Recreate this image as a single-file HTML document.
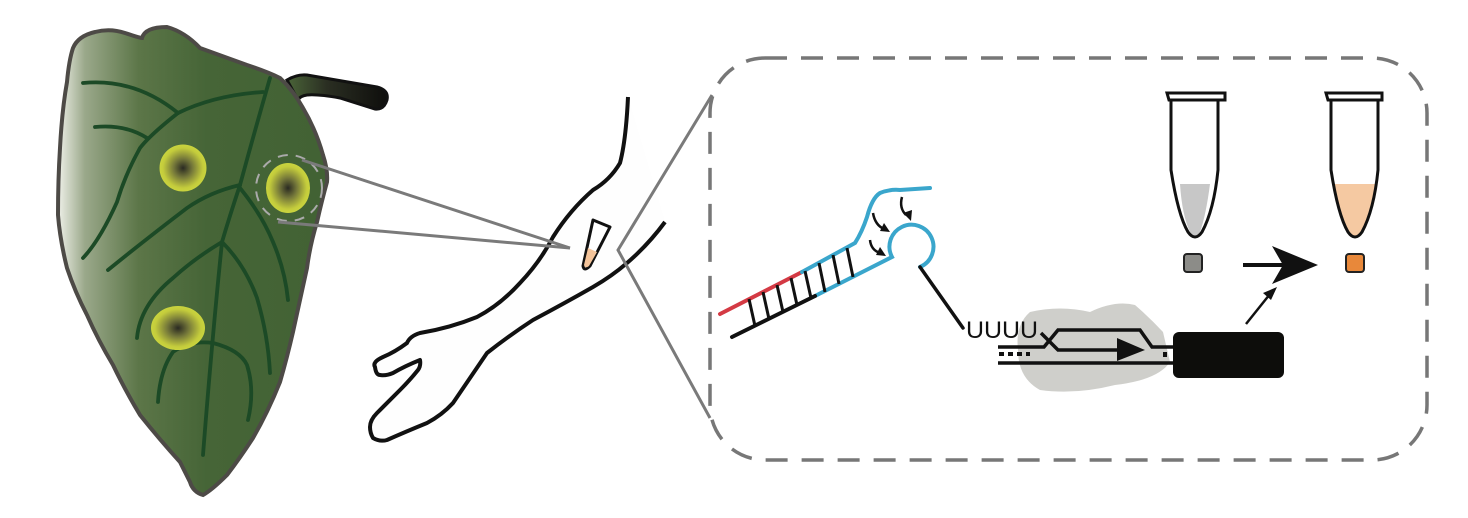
<!DOCTYPE html>
<html><head><meta charset="utf-8"><style>html,body{margin:0;padding:0;background:#fff}svg{display:block}</style></head>
<body>
<svg width="1468" height="518" viewBox="0 0 1468 518" xmlns="http://www.w3.org/2000/svg">
<defs>
<linearGradient id="lg" x1="0" x2="1" y1="0" y2="0">
<stop offset="0" stop-color="#eef0e8"/><stop offset="0.1" stop-color="#9aa88a"/><stop offset="0.3" stop-color="#5c7648"/><stop offset="0.55" stop-color="#466537"/><stop offset="1" stop-color="#426234"/>
</linearGradient>
<linearGradient id="stg" x1="0" x2="1"><stop offset="0" stop-color="#4a6438"/><stop offset="0.4" stop-color="#2a2e22"/><stop offset="1" stop-color="#0e0e0c"/></linearGradient>
<radialGradient id="sp"><stop offset="0" stop-color="#2a2a22"/><stop offset="0.4" stop-color="#75783a"/><stop offset="0.85" stop-color="#c4cc3c"/><stop offset="1" stop-color="#cad43e"/></radialGradient>
</defs>
<!-- stem -->
<path d="M287 80 Q297 74 307 75 L377 87 Q389 90 387 100 Q384 110 375 109 L340 98 Q318 94 307 95 Q300 96 298 100 Z" fill="url(#stg)" stroke="#111" stroke-width="3"/>
<!-- leaf -->
<path d="M73 48 Q78 36 95 32 Q110 28 125 33 Q140 38 142 38 Q145 27 167 27 Q185 32 200 48 Q225 57 247 65 Q268 72 280 78 Q293 90 303 108 Q316 130 323 155 Q328 170 327 182 Q322 200 317 222 Q310 245 307 268 Q300 300 293 332 Q287 358 280 382 Q268 412 253 438 Q240 458 227 475 Q212 490 203 495 Q193 492 190 482 Q184 470 180 462 Q160 440 140 415 Q125 390 113 365 Q98 340 87 315 Q75 292 67 268 Q60 240 58 215 Q58 180 60 148 Q62 110 67 82 Q69 60 73 48 Z" fill="url(#lg)" stroke="#4d4a46" stroke-width="4"/>
<g fill="none" stroke="#1c4a26" stroke-width="3.8" stroke-linecap="round">
<path d="M270 78 Q255 130 240 185 Q230 215 222 242 Q212 340 203 455"/>
<path d="M83 83 Q135 78 178 113"/>
<path d="M178 113 Q215 95 263 92"/>
<path d="M178 113 Q150 135 140 148 Q125 175 117 202 Q100 240 83 258"/>
<path d="M95 127 Q125 124 147 138"/>
<path d="M240 185 Q210 192 187 208 Q145 240 108 270"/>
<path d="M240 188 Q262 215 273 242 Q285 270 288 300"/>
<path d="M222 242 Q195 258 173 278 Q140 305 137 338"/>
<path d="M222 242 Q245 265 257 298 Q268 335 270 373"/>
<path d="M158 402 Q160 370 173 352 Q190 340 213 343 Q240 350 247 365 Q255 390 248 420"/>
</g>
<circle cx="183" cy="168" r="23.5" fill="url(#sp)"/>
<ellipse cx="288" cy="188" rx="22" ry="25" fill="url(#sp)"/>
<ellipse cx="178" cy="328" rx="27" ry="22" fill="url(#sp)"/>
<circle cx="289" cy="188" r="33" fill="none" stroke="#aaa" stroke-width="2" stroke-dasharray="10 8"/>
<!-- arm -->
<path d="M628 97 Q626 140 620 163 Q610 180 593 190 Q570 210 553 237 Q540 262 520 283 Q500 305 477 317 Q450 328 420 333 Q410 336 407 343 Q395 352 383 357 Q372 362 375 367 Q376 375 380 375 Q386 376 393 373 Q405 366 420 360 Q421 366 418 370 Q410 380 400 390 Q388 402 377 413 Q370 420 370 427 Q370 433 373 438 Q380 442 387 440 Q405 432 427 423 Q442 415 453 403 Q470 378 487 353 Q510 335 533 320 Q565 303 593 287 Q612 276 627 263 Q648 245 665 222" fill="#fefefe" stroke="#111" stroke-width="4" stroke-linejoin="round"/>
<!-- zoom lines -->
<g stroke="#7a7a7a" stroke-width="3" fill="none">
<line x1="302" y1="160" x2="570" y2="248"/>
<line x1="278" y1="222" x2="570" y2="248"/>
<path d="M712 95 L618 250 L710 418"/>
</g>
<path d="M593 220 L610 227 L590 266 Q584 272 583 266 Z" fill="#fff" stroke="#111" stroke-width="3" stroke-linejoin="round"/>
<path d="M588 248 L597 252 L589 266 Q585 269 584 265 Z" fill="#f4c49a"/>
<!-- dashed box -->
<rect x="710" y="58" width="717" height="402" rx="55" fill="none" stroke="#777" stroke-width="3.5" stroke-dasharray="22 14"/>
<!-- blob -->
<path d="M1030 312 Q1060 305 1090 312 Q1115 300 1135 305 Q1150 318 1163 332 L1170 362 Q1158 380 1115 385 Q1075 395 1040 390 Q1018 378 1018 350 Q1015 325 1030 312 Z" fill="#cfcfcb"/>
<!-- RNA -->
<g fill="none" stroke-linecap="round" stroke-width="4">
<line x1="720" y1="314" x2="802" y2="272" stroke="#d43a44"/>
<path d="M802 272 L855 243 Q862 232 867 217 Q872 198 880 193 Q890 189 900 190 L930 188" stroke="#3aa6cc"/>
<path d="M815 296 L892 257 A22 22 0 1 1 920 267" stroke="#3aa6cc"/>
<line x1="732" y1="337" x2="815" y2="296" stroke="#111"/>
<line x1="920" y1="267" x2="963" y2="328" stroke="#111" stroke-width="3.5"/>
</g>
<g stroke="#111" stroke-width="3">
<line x1="749" y1="299" x2="755" y2="326"/><line x1="763" y1="292" x2="769" y2="319"/>
<line x1="777" y1="285" x2="783" y2="312"/><line x1="791" y1="278" x2="797" y2="305"/>
<line x1="805" y1="271" x2="811" y2="298"/><line x1="819" y1="263" x2="825" y2="292"/>
<line x1="833" y1="255" x2="839" y2="284"/><line x1="847" y1="248" x2="853" y2="277"/>
</g>
<g fill="none" stroke="#111" stroke-width="2.5">
<path d="M902 197 Q899 208 906 215"/><path d="M873 213 Q875 225 884 229"/><path d="M870 240 Q871 250 880 253"/>
</g>
<g fill="#111">
<polygon points="911,221 912,210 903,213"/><polygon points="890,232 884,223 880,231"/><polygon points="886,256 880,247 876,255"/>
</g>
<text x="966" y="338" font-family="Liberation Sans, sans-serif" font-size="24" fill="#111" textLength="72" lengthAdjust="spacingAndGlyphs">UUUU</text>
<!-- DNA -->
<g stroke="#111" stroke-width="3.5" fill="none">
<path d="M998 347 L1044 347 L1058 330 L1140 330 L1152 347 L1176 347"/>
<path d="M1041 333 L1058 350 L1125 350"/>
<line x1="998" y1="363" x2="1176" y2="363"/>
</g>
<polygon points="1117,338 1145,350 1117,361" fill="#111"/>
<g stroke="#111" stroke-width="4"><line x1="999" y1="354" x2="1004" y2="354"/><line x1="1008" y1="354" x2="1013" y2="354"/><line x1="1017" y1="354" x2="1022" y2="354"/><line x1="1026" y1="354" x2="1030" y2="354"/><line x1="1165" y1="352" x2="1165" y2="357"/></g>
<rect x="1173" y="332" width="111" height="46" rx="6" fill="#0d0d0b"/>
<line x1="1246" y1="324" x2="1270" y2="294" stroke="#111" stroke-width="2.5"/>
<polygon points="1277,287 1263,293 1271,300" fill="#111"/>
<!-- tubes -->
<g stroke="#111" stroke-width="3">
<path d="M1180 184 L1210 184 Q1206 215 1200 232 Q1195 240 1190 232 Q1182 215 1180 184 Z" fill="#c7c7c7" stroke="none"/>
<path d="M1171 100 L1171 170 Q1178 215 1188 232 Q1195 242 1202 232 Q1214 210 1218 170 L1218 100" fill="none"/>
<path d="M1167 93 L1225 93 L1225 100 L1169 100 Z" fill="#fff"/>
<path d="M1333 184 L1376 184 Q1370 215 1362 232 Q1355 240 1348 232 Q1338 215 1333 184 Z" fill="#f5c9a2" stroke="none"/>
<path d="M1331 100 L1331 170 Q1338 215 1348 232 Q1355 242 1362 232 Q1374 210 1378 170 L1378 100" fill="none"/>
<path d="M1326 93 L1382 93 L1382 100 L1328 100 Z" fill="#fff"/>
</g>
<rect x="1184" y="254" width="18" height="18" rx="3" fill="#8c8c88" stroke="#222" stroke-width="2"/>
<rect x="1346" y="254" width="18" height="18" rx="3" fill="#e8883a" stroke="#222" stroke-width="2"/>
<line x1="1243" y1="265" x2="1285" y2="265" stroke="#111" stroke-width="4"/>
<polygon points="1272,246 1318,265 1272,284 1283,265" fill="#111"/>
</svg>
</body></html>
